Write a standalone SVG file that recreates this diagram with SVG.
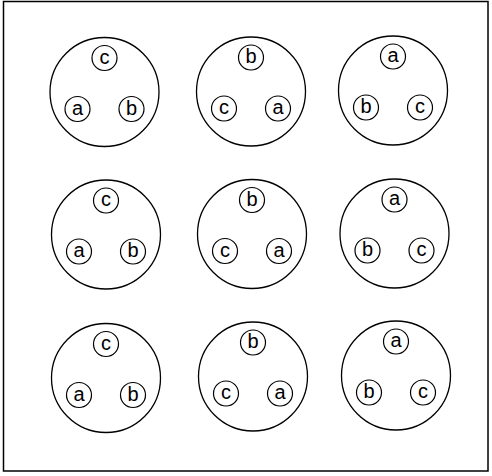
<svg xmlns="http://www.w3.org/2000/svg" width="492" height="476" viewBox="0 0 492 476">
<style>
.big{fill:none;stroke:#000;stroke-width:1.3}
.sm{fill:none;stroke:#000;stroke-width:1.2}
.t{font-family:"Liberation Sans",Arial,sans-serif;font-size:20px;text-anchor:middle;dominant-baseline:central;fill:#000}
</style>
<rect width="492" height="476" fill="#fff"/>
<rect x="3.5" y="1.5" width="484.5" height="469.5" fill="none" stroke="#000" stroke-width="1.5"/>
<defs>
<g id="A"><circle class="sm" r="12.5"/><text class="t" y="-1.5">a</text></g>
<g id="B"><circle class="sm" r="12.5"/><text class="t" y="-1.5">b</text></g>
<g id="C"><circle class="sm" r="12.5"/><text class="t" y="-1.5">c</text></g>
</defs>
<g id="n1" transform="translate(104.5,92)"><circle class="big" r="54.5"/><use href="#C" x="0" y="-34"/><use href="#A" x="-27" y="17"/><use href="#B" x="27" y="17"/></g>
<g id="n2" transform="translate(251,91.5)"><circle class="big" r="54.5"/><use href="#B" x="0" y="-34"/><use href="#C" x="-27" y="17"/><use href="#A" x="27" y="17"/></g>
<g id="n3" transform="translate(393,90.5)"><circle class="big" r="54.5"/><use href="#A" x="0" y="-34"/><use href="#B" x="-27" y="17"/><use href="#C" x="27" y="17"/></g>
<g id="n4" transform="translate(106,234.5)"><circle class="big" r="54.5"/><use href="#C" x="0" y="-34"/><use href="#A" x="-27" y="17"/><use href="#B" x="27" y="17"/></g>
<g id="n5" transform="translate(252,234)"><circle class="big" r="54.5"/><use href="#B" x="0" y="-34"/><use href="#C" x="-27" y="17"/><use href="#A" x="27" y="17"/></g>
<g id="n6" transform="translate(394.5,233.5)"><circle class="big" r="54.5"/><use href="#A" x="0" y="-34"/><use href="#B" x="-27" y="17"/><use href="#C" x="27" y="17"/></g>
<g id="n7" transform="translate(106,378)"><circle class="big" r="54.5"/><use href="#C" x="0" y="-34"/><use href="#A" x="-27" y="17"/><use href="#B" x="27" y="17"/></g>
<g id="n8" transform="translate(253,376.5)"><circle class="big" r="54.5"/><use href="#B" x="0" y="-34"/><use href="#C" x="-27" y="17"/><use href="#A" x="27" y="17"/></g>
<g id="n9" transform="translate(396,375.5)"><circle class="big" r="54.5"/><use href="#A" x="0" y="-34"/><use href="#B" x="-27" y="17"/><use href="#C" x="27" y="17"/></g>
<g id="connectors"></g>
</svg>
